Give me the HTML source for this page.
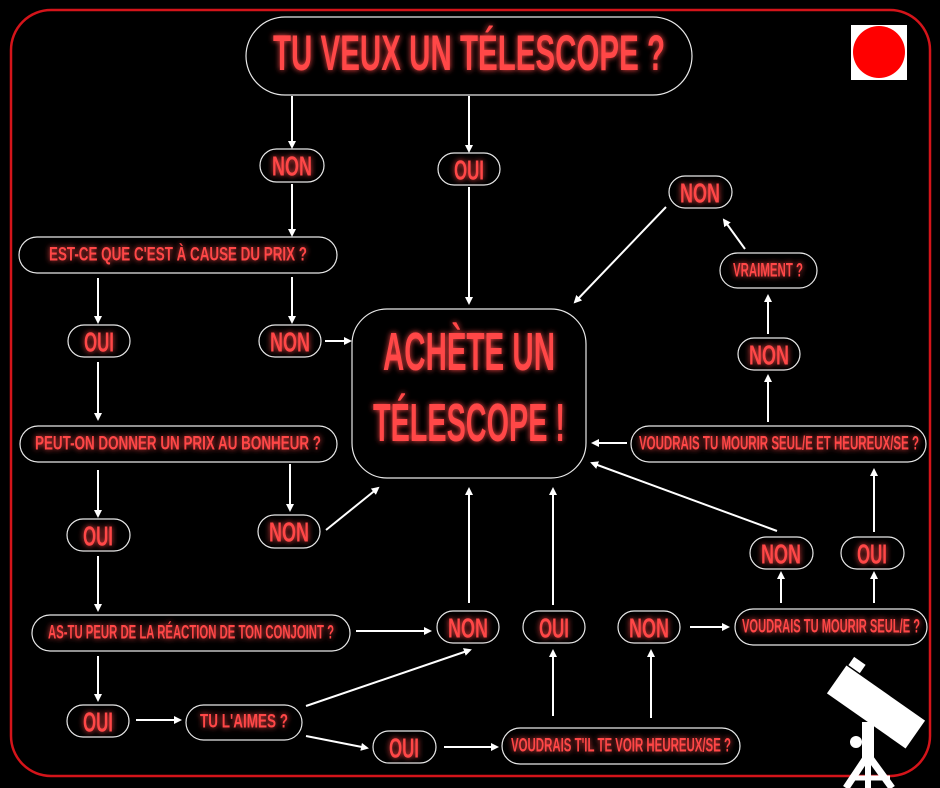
<!DOCTYPE html>
<html><head><meta charset="utf-8"><style>
html,body{margin:0;padding:0;background:#000;width:940px;height:788px;overflow:hidden}
svg{display:block}
text{font-family:"Liberation Sans",sans-serif;font-weight:bold;fill:#ff4747;text-anchor:middle;dominant-baseline:central}
.b{fill:#000;stroke:#e8e8e8;stroke-width:1.2}
.a{stroke:#fff;stroke-width:2;fill:none;marker-end:url(#ah)}
</style></head><body>
<svg width="940" height="788" viewBox="0 0 940 788">
<defs>
<marker id="ah" markerWidth="8" markerHeight="8" refX="6" refY="4" orient="auto" markerUnits="userSpaceOnUse"><path d="M0,0 L8,4 L0,8 z" fill="#fff"/></marker>
<filter id="g" x="-20%" y="-50%" width="140%" height="200%"><feGaussianBlur in="SourceGraphic" stdDeviation="3" result="b"/><feMerge><feMergeNode in="b"/><feMergeNode in="SourceGraphic"/></feMerge></filter>
</defs>
<rect x="0" y="0" width="940" height="788" fill="#000"/>
<rect x="11" y="10" width="919" height="766" rx="40" fill="none" stroke="#d4141a" stroke-width="2.5"/>
<rect x="851" y="25" width="56" height="55" fill="#fff"/>
<circle cx="879" cy="52" r="26" fill="#f00"/>

<rect class="b" x="246" y="17" width="446" height="78" rx="39"/>
<rect class="b" x="260" y="149" width="64" height="33" rx="16.5"/>
<rect class="b" x="438" y="153" width="62" height="32" rx="16"/>
<rect class="b" x="19" y="237" width="318" height="36" rx="18"/>
<rect class="b" x="68" y="325" width="62" height="32" rx="16"/>
<rect class="b" x="259" y="325" width="62" height="32" rx="16"/>
<rect class="b" x="352" y="309" width="234" height="169" rx="35"/>
<rect class="b" x="20" y="426" width="317" height="36" rx="18"/>
<rect class="b" x="258" y="515" width="62" height="33" rx="16.5"/>
<rect class="b" x="67" y="519" width="63" height="32" rx="16"/>
<rect class="b" x="32" y="615" width="318" height="36" rx="18"/>
<rect class="b" x="437" y="611" width="62" height="32" rx="16"/>
<rect class="b" x="523" y="611" width="62" height="32" rx="16"/>
<rect class="b" x="618" y="611" width="62" height="32" rx="16"/>
<rect class="b" x="735" y="609" width="192" height="36" rx="18"/>
<rect class="b" x="67" y="705" width="62" height="32" rx="16"/>
<rect class="b" x="186" y="705" width="116" height="35" rx="17.5"/>
<rect class="b" x="373" y="731" width="63" height="32" rx="16"/>
<rect class="b" x="502" y="728" width="238" height="36" rx="18"/>
<rect class="b" x="750" y="537" width="63" height="32" rx="16"/>
<rect class="b" x="841" y="537" width="63" height="32" rx="16"/>
<rect class="b" x="631" y="426" width="295" height="36" rx="18"/>
<rect class="b" x="738" y="338" width="62" height="32" rx="16"/>
<rect class="b" x="720" y="253" width="97" height="35" rx="17.5"/>
<rect class="b" x="669" y="176" width="63" height="32" rx="16"/>

<g filter="url(#g)">
<text x="469" y="53" font-size="50" textLength="392" lengthAdjust="spacingAndGlyphs">TU VEUX UN TÉLESCOPE ?</text>
<text x="469" y="352" font-size="54" textLength="172" lengthAdjust="spacingAndGlyphs">ACHÈTE UN</text>
<text x="469" y="423" font-size="54" textLength="192" lengthAdjust="spacingAndGlyphs">TÉLESCOPE !</text>
<g font-size="28">
<text x="292" y="166" textLength="40" lengthAdjust="spacingAndGlyphs">NON</text>
<text x="469" y="170" textLength="30" lengthAdjust="spacingAndGlyphs">OUI</text>
<text x="99" y="342" textLength="30" lengthAdjust="spacingAndGlyphs">OUI</text>
<text x="290" y="342" textLength="40" lengthAdjust="spacingAndGlyphs">NON</text>
<text x="289" y="532" textLength="40" lengthAdjust="spacingAndGlyphs">NON</text>
<text x="98" y="536" textLength="30" lengthAdjust="spacingAndGlyphs">OUI</text>
<text x="468" y="628" textLength="40" lengthAdjust="spacingAndGlyphs">NON</text>
<text x="554" y="628" textLength="30" lengthAdjust="spacingAndGlyphs">OUI</text>
<text x="649" y="628" textLength="40" lengthAdjust="spacingAndGlyphs">NON</text>
<text x="98" y="722" textLength="30" lengthAdjust="spacingAndGlyphs">OUI</text>
<text x="404" y="748" textLength="30" lengthAdjust="spacingAndGlyphs">OUI</text>
<text x="781" y="554" textLength="40" lengthAdjust="spacingAndGlyphs">NON</text>
<text x="872" y="554" textLength="30" lengthAdjust="spacingAndGlyphs">OUI</text>
<text x="769" y="355" textLength="40" lengthAdjust="spacingAndGlyphs">NON</text>
<text x="700" y="193" textLength="40" lengthAdjust="spacingAndGlyphs">NON</text>
</g>
<g font-size="19">
<text x="178" y="255" textLength="258" lengthAdjust="spacingAndGlyphs">EST-CE QUE C'EST À CAUSE DU PRIX ?</text>
<text x="178" y="444" textLength="286" lengthAdjust="spacingAndGlyphs">PEUT-ON DONNER UN PRIX AU BONHEUR ?</text>
<text x="191" y="633" textLength="286" lengthAdjust="spacingAndGlyphs">AS-TU PEUR DE LA RÉACTION DE TON CONJOINT ?</text>
<text x="831" y="627" textLength="178" lengthAdjust="spacingAndGlyphs">VOUDRAIS TU MOURIR SEUL/E ?</text>
<text x="244" y="722" textLength="88" lengthAdjust="spacingAndGlyphs">TU L'AIMES ?</text>
<text x="621" y="746" textLength="220" lengthAdjust="spacingAndGlyphs">VOUDRAIS T'IL TE VOIR HEUREUX/SE ?</text>
<text x="779" y="444" textLength="280" lengthAdjust="spacingAndGlyphs">VOUDRAIS TU MOURIR SEUL/E ET HEUREUX/SE ?</text>
<text x="768" y="271" textLength="70" lengthAdjust="spacingAndGlyphs">VRAIMENT ?</text>
</g>
</g>

<line class="a" x1="292" y1="96" x2="292" y2="147"/>
<line class="a" x1="469" y1="96" x2="469" y2="151"/>
<line class="a" x1="292" y1="184" x2="292" y2="235"/>
<line class="a" x1="469" y1="187" x2="469" y2="303"/>
<line class="a" x1="98" y1="278" x2="98" y2="322"/>
<line class="a" x1="292" y1="277" x2="292" y2="322"/>
<line class="a" x1="325" y1="341" x2="350" y2="341"/>
<line class="a" x1="98" y1="362" x2="98" y2="419"/>
<line class="a" x1="290" y1="464" x2="290" y2="510"/>
<line class="a" x1="98" y1="470" x2="98" y2="516"/>
<line class="a" x1="326" y1="530" x2="378" y2="488"/>
<line class="a" x1="98" y1="556" x2="98" y2="610"/>
<line class="a" x1="356" y1="631" x2="430" y2="631"/>
<line class="a" x1="98" y1="656" x2="98" y2="700"/>
<line class="a" x1="136" y1="720" x2="180" y2="720"/>
<line class="a" x1="306" y1="706" x2="470" y2="650"/>
<line class="a" x1="306" y1="736" x2="367" y2="748"/>
<line class="a" x1="444" y1="747" x2="497" y2="747"/>
<line class="a" x1="469" y1="603" x2="469" y2="489"/>
<line class="a" x1="553" y1="605" x2="553" y2="489"/>
<line class="a" x1="553" y1="716" x2="553" y2="651"/>
<line class="a" x1="651" y1="718" x2="651" y2="651"/>
<line class="a" x1="690" y1="627" x2="728" y2="627"/>
<line class="a" x1="781" y1="603" x2="781" y2="573"/>
<line class="a" x1="874" y1="603" x2="874" y2="573"/>
<line class="a" x1="777" y1="531" x2="592" y2="463"/>
<line class="a" x1="874" y1="532" x2="874" y2="470"/>
<line class="a" x1="627" y1="443" x2="593" y2="443"/>
<line class="a" x1="768" y1="422" x2="768" y2="376"/>
<line class="a" x1="768" y1="334" x2="768" y2="296"/>
<line class="a" x1="745" y1="249" x2="724" y2="220"/>
<line class="a" x1="666" y1="207" x2="575" y2="302"/>

<g fill="#fff" stroke="#fff">
<rect x="828" y="690" width="96" height="34" transform="rotate(35 876 707)" stroke="none"/>
<rect x="850" y="660" width="14" height="10" transform="rotate(35 857 665)" stroke="none"/>
<rect x="862" y="722" width="12" height="40" stroke="none"/>
<circle cx="856" cy="742" r="6" stroke="none"/>
<line x1="868" y1="755" x2="846" y2="788" stroke-width="7"/>
<line x1="868" y1="755" x2="892" y2="788" stroke-width="7"/>
<line x1="868" y1="755" x2="868" y2="788" stroke-width="6"/>
<line x1="850" y1="778" x2="890" y2="778" stroke-width="5"/>
</g>
</svg>
</body></html>
